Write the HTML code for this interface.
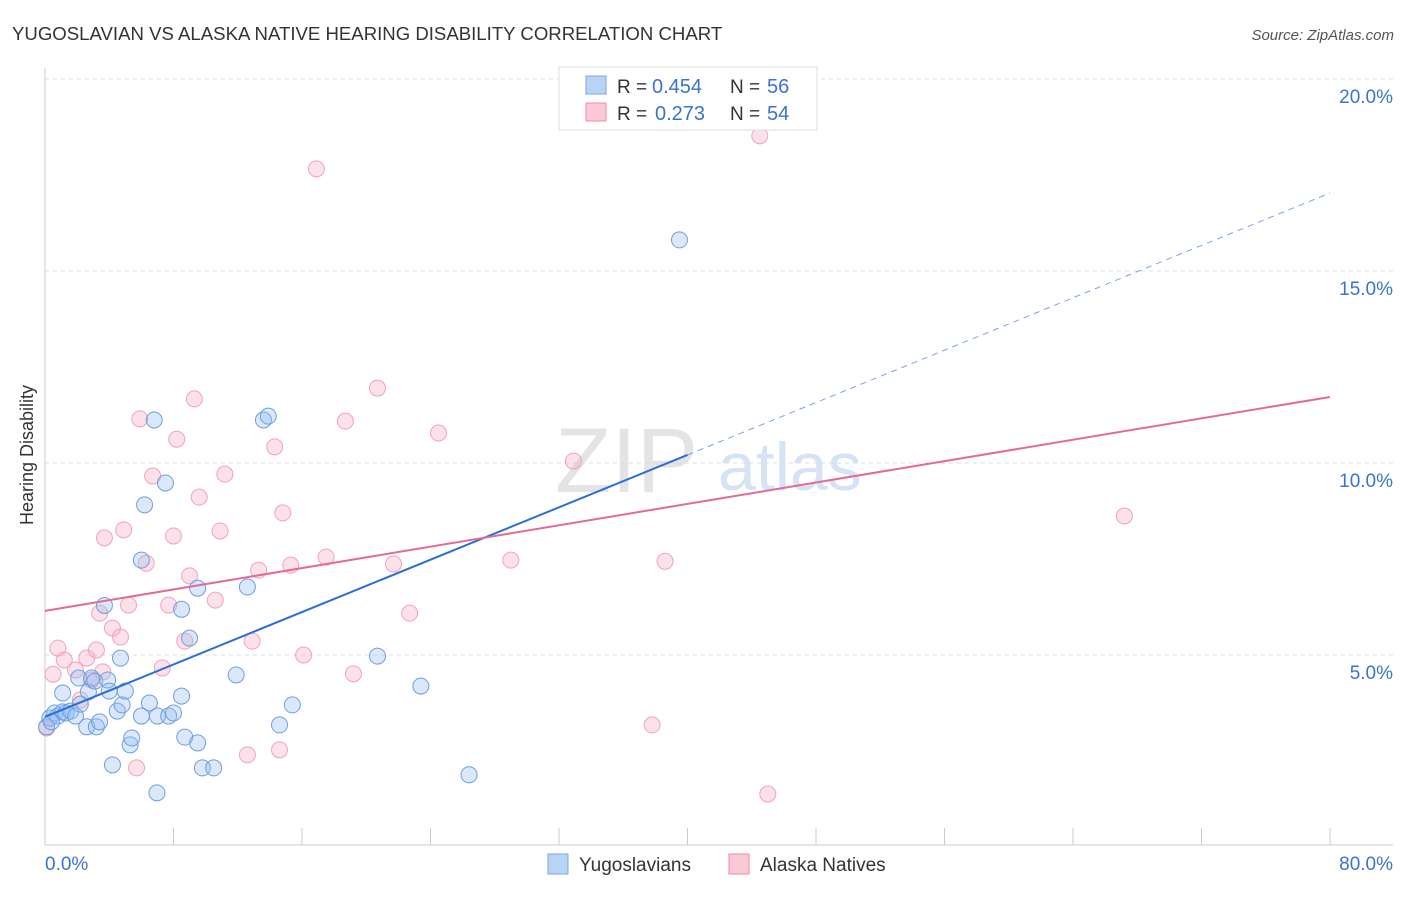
<!DOCTYPE html>
<html><head><meta charset="utf-8"><style>
body{margin:0;background:#fff;font-family:"Liberation Sans",sans-serif;}
svg text{font-family:"Liberation Sans",sans-serif;}
</style></head><body>
<svg id="c" width="1406" height="892" xmlns="http://www.w3.org/2000/svg">
<text x="12" y="40" font-size="18.6" fill="#333">YUGOSLAVIAN VS ALASKA NATIVE HEARING DISABILITY CORRELATION CHART</text>
<text x="1394" y="40" font-size="15" fill="#555" font-style="italic" text-anchor="end">Source: ZipAtlas.com</text>
<text x="555" y="492" font-size="92" fill="#e4e4e4" font-family="Liberation Serif">ZIP</text>
<text x="718" y="490" font-size="68" fill="#d6e3f5">atlas</text>
<g id="grid"></g><g id="axes"></g><g id="pts"></g><g id="lines"></g>
<text transform="translate(33,455) rotate(-90)" font-size="18" fill="#333" text-anchor="middle">Hearing Disability</text>
<g>
<rect x="559" y="67" width="258" height="63" fill="#fff" stroke="#ddd"/>
<rect x="586" y="76" width="20" height="18" fill="#b9d3f5" stroke="#7aa7e6"/>
<rect x="586" y="103" width="20" height="18" fill="#fbc8d6" stroke="#f08aa8"/>
<text x="617" y="93" font-size="19" fill="#333">R =</text>
<text x="652" y="93" font-size="20" fill="#3b73d1">0.454</text>
<text x="730" y="93" font-size="19" fill="#333">N =</text>
<text x="767" y="93" font-size="20" fill="#3b73d1">56</text>
<text x="617" y="120" font-size="19" fill="#333">R =</text>
<text x="655" y="120" font-size="20" fill="#3b73d1">0.273</text>
<text x="730" y="120" font-size="19" fill="#333">N =</text>
<text x="767" y="120" font-size="20" fill="#3b73d1">54</text>
</g>
<g>
<rect x="548" y="854" width="20" height="20" fill="#b9d3f5" stroke="#7aa7e6"/>
<text x="579" y="871" font-size="19" fill="#333">Yugoslavians</text>
<rect x="729" y="854" width="20" height="20" fill="#fbc8d6" stroke="#f08aa8"/>
<text x="760" y="871" font-size="19" fill="#333">Alaska Natives</text>
</g>
</svg>
<script>
const yTicks=[5,10,15,20];
const yTickLabels=["5.0%","10.0%","15.0%","20.0%"];
const xEnds=["0.0%","80.0%"];
const blueX=[0.1,0.3,0.6,0.8,1.1,1.3,1.1,1.6,1.9,2.1,2.6,2.7,2.9,3.1,3.2,3.4,3.7,3.9,4.0,4.2,4.5,4.7,4.8,5.0,5.3,5.4,6.0,6.0,6.2,6.5,6.8,6.97,7.0,7.5,7.7,8.0,8.5,8.5,8.7,9.0,9.5,9.5,9.8,10.5,11.9,12.6,13.6,13.9,14.6,15.4,20.7,23.4,26.4,39.5,0.4,2.2];
const blueY=[3.13,3.36,3.49,3.41,3.52,3.49,4.01,3.54,3.41,4.40,3.13,4.04,4.40,4.32,3.13,3.26,6.29,4.35,4.06,2.14,3.54,4.92,3.70,4.06,2.66,2.84,7.47,3.41,8.91,3.75,11.12,1.41,3.41,9.48,3.41,3.49,3.93,6.19,2.86,5.44,6.74,2.71,2.06,2.06,4.48,6.77,11.12,11.22,3.18,3.70,4.97,4.19,1.88,15.81,3.26,3.72];
const pinkX=[0.1,0.5,0.8,1.2,1.9,2.2,2.6,2.9,3.2,3.6,3.7,4.2,4.7,4.9,5.2,5.7,5.9,6.3,6.7,7.3,7.7,8.0,8.2,8.7,9.0,9.3,9.6,10.6,10.9,11.2,12.6,12.9,13.3,14.3,14.6,14.8,15.3,16.1,17.5,18.7,19.2,20.7,21.7,22.7,24.5,29.0,32.9,37.8,38.6,44.5,45.0,67.2,16.9,3.4];
const pinkY=[3.10,4.50,5.18,4.87,4.61,3.83,4.92,4.35,5.13,4.56,8.05,5.70,5.47,8.26,6.30,2.06,11.15,7.39,9.66,4.66,6.30,8.10,10.62,5.36,7.06,11.67,9.11,6.43,8.23,9.71,2.40,5.36,7.21,10.42,2.53,8.70,7.34,5.00,7.55,11.09,4.51,11.95,7.37,6.09,10.78,7.47,10.05,3.18,7.44,18.52,1.38,8.62,17.66,6.09];
const blueLine=[3.39,17.03];
const pinkLine=[6.15,11.72];
const X0=45,X1=1330,Y0=847,PY=38.4;
const sx=v=>X0+(v/80)*(X1-X0), sy=v=>Y0-v*PY;
const NS="http://www.w3.org/2000/svg";
function mk(t,a,p){const e=document.createElementNS(NS,t);for(const k in a)e.setAttribute(k,a[k]);document.getElementById(p).appendChild(e);return e;}
yTicks.forEach((t,i)=>{
 const g=mk('line',{x1:45,x2:1393,y1:sy(t),y2:sy(t),stroke:'#ddd','stroke-dasharray':'4,4'},'grid');
 
 
 const tx=mk('text',{x:1393,y:sy(t)+24,'font-size':19,fill:'#3b73d1','text-anchor':'end'},'axes');
 tx.textContent=yTickLabels[i];
 
 
});
const ax=mk('line',{x1:45,x2:45,y1:68,y2:845,stroke:'#ccc'},'axes');


const bx=mk('line',{x1:45,x2:1393,y1:845,y2:845,stroke:'#ccc'},'axes');


for(let i=0;i<=10;i++){const t=mk('line',{x1:sx(i*8),x2:sx(i*8),y1:828,y2:845,stroke:'#ccc'},'axes');
 
 }
[[45,'start',0],[1393,'end',1]].forEach(([x,a,i])=>{const t=mk('text',{x:x,y:870,'font-size':19,fill:'#3b73d1','text-anchor':a},'axes');t.textContent=xEnds[i];
 
 });
pinkX.forEach((x,i)=>{const c=mk('circle',{cx:sx(x),cy:sy(pinkY[i]),r:8,fill:'rgba(247,170,195,0.35)',stroke:'#f2a3bb','stroke-width':1},'pts');
 
 });
blueX.forEach((x,i)=>{const c=mk('circle',{cx:sx(x),cy:sy(blueY[i]),r:8,fill:'rgba(150,190,240,0.35)',stroke:'#6f9fe0','stroke-width':1},'pts');
 
 });
const bAt=v=>blueLine[0]+(blueLine[1]-blueLine[0])*v/80;
const l1=mk('line',{x1:sx(0),y1:sy(bAt(0)),x2:sx(40),y2:sy(bAt(40)),stroke:'#2a6fd6','stroke-width':2},'lines');


const l2=mk('line',{x1:sx(40),y1:sy(bAt(40)),x2:sx(80),y2:sy(bAt(80)),stroke:'#7aa3e0','stroke-width':1,'stroke-dasharray':'6,5'},'lines');


const l3=mk('line',{x1:sx(0),y1:sy(pinkLine[0]),x2:sx(80),y2:sy(pinkLine[1]),stroke:'#e46a96','stroke-width':2},'lines');


</script>
</body></html>
